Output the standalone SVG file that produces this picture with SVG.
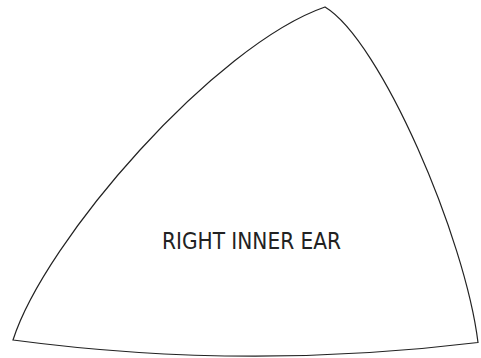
<svg xmlns="http://www.w3.org/2000/svg" width="481" height="358" viewBox="0 0 481 358">
<style>
.shape{fill:#fff;stroke:#222;stroke-width:1.2}
.lbl{font-family:"DejaVu Sans Condensed","DejaVu Sans",sans-serif;font-size:22.4px;fill:#222;text-anchor:middle}
</style>
<rect width="481" height="358" fill="#fff"/>
<g id="right-inner-ear">
<path class="shape" d="M325,7 C380.7,40.5 465.2,237.7 478,342.5 Q245,371 13,340 C45,240 215,45 325,7 Z"/>
<text class="lbl" x="251.5" y="249">RIGHT INNER EAR</text>
</g>
</svg>
